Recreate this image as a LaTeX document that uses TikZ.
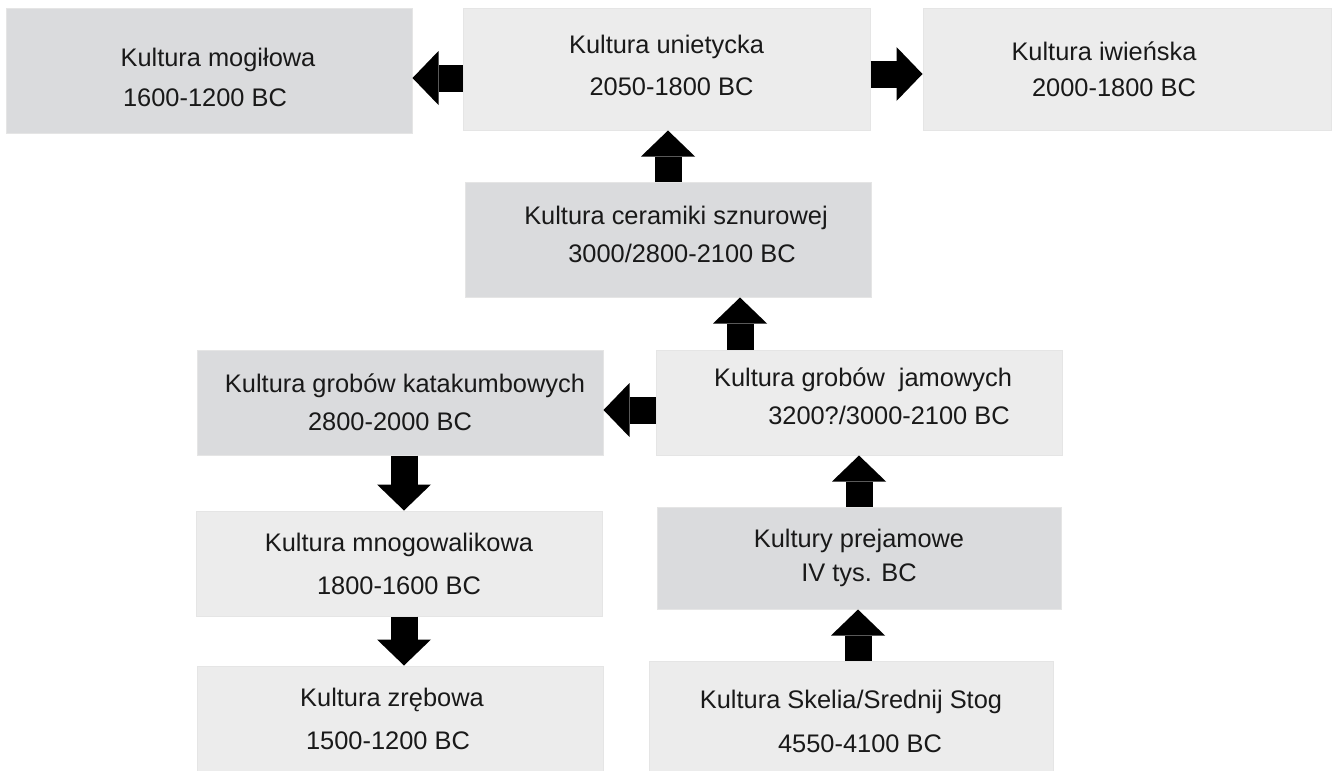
\documentclass[tikz,border=0pt]{standalone}
\usepackage{fontspec}
\setmainfont{Liberation Sans}
\usetikzlibrary{arrows.meta,calc}

\definecolor{ciemny}{RGB}{218,219,221}
\definecolor{jasny}{RGB}{236,236,236}

\begin{document}
\begin{tikzpicture}[x=0.5pt, y=-0.5pt,
    kultura/.style={rectangle, draw=black!10, line width=0.5pt, inner sep=0pt,
        minimum width=203pt, minimum height=52.5pt, align=center, text=black!90,
        font=\fontsize{12.7}{20}\selectfont},
    ciemna/.style={kultura, fill=ciemny},
    jasna/.style={kultura, fill=jasny},
    strzalka/.style={line width=13.5pt,
        -{Triangle[length=13pt, width=27pt, line width=0pt]}}]

\useasboundingbox (0,0) rectangle (1335,771);

%========================
% Gorny rzad
%========================
\node[ciemna, minimum height=62.5pt] (mogilowa) at (209,70.5)
    {\rule{0pt}{16.6pt}\hspace*{9pt}Kultura mogiłowa\\\hspace*{-4pt}1600-1200 BC};
\node[jasna, minimum width=203.5pt, minimum height=61pt] (unietycka) at (666.5,69)
    {Kultura unietycka\\[1pt]\hspace*{5pt}2050-1800 BC\rule[-4pt]{0pt}{4pt}};
\node[jasna, minimum width=204pt, minimum height=61pt] (iwienska) at (1127,69)
    {\hspace*{-23pt}Kultura iwieńska\\[-2pt]\hspace*{-13pt}2000-1800 BC};

%========================
% Ceramika sznurowa
%========================
\node[ciemna, minimum height=57.5pt] (ceramiki) at (668,239.5)
    {\hspace*{8pt}Kultura ceramiki sznurowej\\[-1pt]\hspace*{14pt}3000/2800-2100 BC\rule[-5pt]{0pt}{5pt}};

%========================
% Groby
%========================
\node[ciemna] (katakumby) at (400,402.5)
    {\hspace*{5pt}Kultura grobów katakumbowych\\[-1pt]\hspace*{-10pt}2800-2000 BC};
\node[jasna] (jamowe) at (859,402.5)
    {\hspace*{4pt}Kultura grobów~ jamowych\\[-1pt]\hspace*{30pt}3200?/3000-2100 BC\rule[-6pt]{0pt}{6pt}};

%========================
% Dolne rzedy
%========================
\node[jasna] (mnogowalik) at (399,563.5)
    {Kultura mnogowalikowa\\[1.5pt]1800-1600 BC};
\node[ciemna, minimum width=202pt, minimum height=51pt] (prejamowe) at (859,558)
    {Kultury prejamowe\\[-3pt]IV tys. BC};
\node[jasna] (zrebowa) at (400,718.5)
    {\hspace*{-8pt}Kultura zrębowa\\[1.5pt]\hspace*{-12pt}1500-1200 BC};
\node[jasna, minimum width=202pt, minimum height=55pt] (skelia) at (851,716)
    {\rule{0pt}{15.1pt}Kultura Skelia/Srednij Stog\\[2pt]\hspace*{9pt}4550-4100 BC};

%========================
% Strzalki
%========================
\draw[strzalka] ($(unietycka.west)+(0,9)$) -- ($(mogilowa.east)+(0,7.5)$);
\draw[strzalka] ($(unietycka.east)+(0,5)$) -- ($(iwienska.west)+(0,5)$);
\draw[strzalka] (ceramiki.north) -- (ceramiki.north |- unietycka.south);
\draw[strzalka] ($(jamowe.north)+(-119,0)$) -- ($(ceramiki.south)+(72,0)$);
\draw[strzalka] ($(jamowe.west)+(0,7.5)$) -- ($(katakumby.east)+(0,7.5)$);
\draw[strzalka] ($(katakumby.south)+(4,0)$) -- ($(mnogowalik.north)+(5,0)$);
\draw[strzalka] ($(mnogowalik.south)+(5,0)$) -- ($(zrebowa.north)+(4,0)$);
\draw[strzalka] (prejamowe.north) -- (jamowe.south);
\draw[strzalka] ($(skelia.north)+(7,0)$) -- ($(prejamowe.south)+(-1,0)$);

\end{tikzpicture}
\end{document}
